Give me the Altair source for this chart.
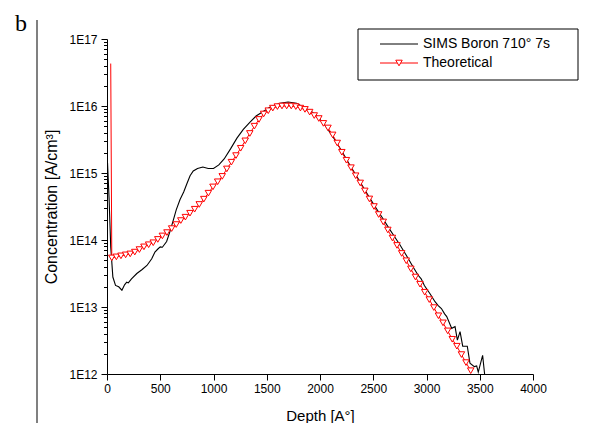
import altair as alt
import pandas as pd

# ---------------- data ----------------
sims_depth = [5, 20, 35, 55, 80, 110, 140, 165, 185, 200, 230, 280, 330, 375, 420, 450,
              480, 500, 520, 560, 590, 620, 650, 685, 720, 750, 780, 810, 850, 900, 950,
              1000, 1050, 1100, 1160, 1220, 1280, 1343, 1400, 1467, 1540, 1624, 1700,
              1780, 1850, 1920, 1970, 2050, 2130, 2200, 2280, 2360, 2450, 2520, 2590,
              2650, 2700, 2750, 2800, 2873, 2920, 2950, 2980, 3033, 3080, 3110, 3140,
              3170, 3190, 3237, 3268, 3290, 3315, 3340, 3383, 3408, 3449, 3471, 3486,
              3527, 3552]
sims_conc = [1.41e15, 3.98e14, 7.9e13, 2.8e13, 2.1e13, 2.0e13, 1.78e13, 2.14e13, 2.34e13,
             2.29e13, 2.63e13, 3.16e13, 3.63e13, 4.17e13, 5.25e13, 6.6e13, 7.4e13, 7.9e13,
             7.8e13, 9.5e13, 1.32e14, 1.91e14, 2.82e14, 3.98e14, 5.2e14, 6.9e14, 9.1e14,
             1.07e15, 1.17e15, 1.23e15, 1.17e15, 1.17e15, 1.32e15, 1.62e15, 2.29e15,
             3.31e15, 4.47e15, 5.75e15, 7.08e15, 8.3e15, 9.8e15, 1.10e16, 1.15e16,
             1.10e16, 9.5e15, 8.3e15, 7.1e15, 5.1e15, 3.3e15, 2.19e15, 1.32e15, 8.1e14,
             4.7e14, 3.1e14, 2.09e14, 1.48e14, 1.12e14, 8.5e13, 6.3e13, 4.0e13, 3.0e13,
             2.63e13, 2.09e13, 1.58e13, 1.20e13, 1.05e13, 9.5e12, 7.9e12, 7.2e12, 4.8e12,
             5.1e12, 3.2e12, 4.3e12, 2.6e12, 2.6e12, 1.45e12, 1.29e12, 1.32e12, 1.07e12,
             1.9e12, 8e11]

theo_depth = [35, 45, 88, 131, 175, 218, 261, 304, 347, 391, 434, 477, 520, 563, 607, 650,
              693, 736, 779, 823, 866, 909, 952, 995, 1039, 1082, 1125, 1168, 1211, 1255,
              1298, 1341, 1384, 1427, 1471, 1514, 1557, 1600, 1643, 1687, 1730, 1773, 1816,
              1859, 1903, 1946, 1989, 2032, 2075, 2119, 2162, 2205, 2248, 2291, 2335, 2378,
              2421, 2464, 2507, 2551, 2594, 2637, 2680, 2723, 2767, 2810, 2853, 2896, 2939,
              2983, 3026, 3069, 3112, 3155, 3199, 3242, 3285, 3328, 3371, 3415]
theo_conc = [4.3e16, 5.4e13, 5.6e13, 5.8e13, 6.0e13, 6.2e13, 6.6e13, 7.2e13, 7.9e13, 8.5e13,
             9.1e13, 1.02e14, 1.15e14, 1.29e14, 1.48e14, 1.70e14, 1.95e14, 2.19e14, 2.51e14,
             2.88e14, 3.39e14, 4.07e14, 5.0e14, 6.2e14, 7.4e14, 8.9e14, 1.15e15, 1.45e15,
             1.82e15, 2.34e15, 3.02e15, 3.89e15, 5.0e15, 6.3e15, 7.6e15, 8.5e15, 9.3e15,
             9.8e15, 1.0e16, 1.0e16, 1.0e16, 9.8e15, 9.3e15, 8.9e15, 8.1e15, 7.2e15, 6.5e15,
             5.5e15, 4.7e15, 3.7e15, 2.8e15, 2.04e15, 1.55e15, 1.20e15, 9.1e14, 7.1e14,
             5.4e14, 4.1e14, 3.16e14, 2.40e14, 1.86e14, 1.41e14, 1.07e14, 8.3e13, 6.3e13,
             4.9e13, 3.7e13, 2.8e13, 2.19e13, 1.66e13, 1.29e13, 9.8e12, 7.4e12, 5.8e12,
             4.4e12, 3.3e12, 2.6e12, 1.95e12, 1.48e12, 1.12e12]

legend_labels = ["SIMS Boron 710° 7s", "Theoretical"]
x_title = "Depth [A°]"
y_title = "Concentration [A/cm³]"
panel_label = "b"

x_ticks = list(range(0, 4001, 250))
y_ticks = [m * 10 ** e for e in range(12, 17) for m in range(1, 10)] + [10 ** 17]

# ---------------- chart ----------------
W, H = 426, 335
FONT = "Liberation Sans"

df_sims = pd.DataFrame({"depth": sims_depth, "conc": sims_conc})
df_theo = pd.DataFrame({"depth": theo_depth, "conc": theo_conc})
df_marks = df_theo.iloc[1:].reset_index(drop=True)
one = pd.DataFrame({"k": [0]})

xscale = alt.Scale(domain=[0, 4000], nice=False, zero=False)
yscale = alt.Scale(type="log", domain=[1e12, 1e17], nice=False)

x_axis = alt.Axis(
    values=x_ticks, format="d", grid=False,
    labelExpr="datum.value % 500 == 0 ? datum.label : ''",
    tickSize={"condition": {"test": "datum.value % 500 == 0", "value": 6}, "value": 3.5},
    labelFlush=False, labelOverlap=False, labelFont=FONT, labelFontSize=12,
    labelColor="black", labelPadding=3, domainColor="black", tickColor="black",
    title=x_title, titleFont=FONT, titleFontSize=15, titleFontWeight="normal",
    titleColor="black", titleBaseline="alphabetic", titleY=46,
)
y_axis = alt.Axis(
    values=y_ticks, grid=False,
    labelExpr="abs(log(datum.value)/LN10 - round(log(datum.value)/LN10)) < 0.001 ? '1E' + round(log(datum.value)/LN10) : ''",
    tickSize={"condition": {"test": "abs(log(datum.value)/LN10 - round(log(datum.value)/LN10)) < 0.001", "value": 6}, "value": 3.5},
    labelFlush=False, labelOverlap=False, labelFont=FONT, labelFontSize=12,
    labelColor="black", labelPadding=4, domainColor="black", tickColor="black",
    title=y_title, titleFont=FONT, titleFontSize=16, titleFontWeight="normal",
    titleColor="black", titleX=-48, titleY=H / 2,
)

X = alt.X("depth:Q", scale=xscale, axis=x_axis)
Y = alt.Y("conc:Q", scale=yscale, axis=y_axis)
X2 = alt.X("depth:Q", scale=xscale)
Y2 = alt.Y("conc:Q", scale=yscale)

sims = alt.Chart(df_sims).mark_line(color="black", strokeWidth=1.1, clip=True).encode(x=X, y=Y)
theo_line = alt.Chart(df_theo).mark_line(color="red", strokeWidth=1, clip=True).encode(x=X2, y=Y2)
theo_pts = alt.Chart(df_marks).mark_point(
    shape="triangle-down", size=42, filled=False, stroke="red", fill="white",
    fillOpacity=1, strokeWidth=1, opacity=1, clip=True,
).encode(x=X2, y=Y2)

# legend (drawn manually)
leg_box = alt.Chart(one).mark_rect(fill="white", stroke="black", strokeWidth=1).encode(
    x=alt.value(251), x2=alt.value(471), y=alt.value(-10), y2=alt.value(41))
leg_l1 = alt.Chart(one).mark_rule(color="black", strokeWidth=1).encode(
    x=alt.value(273), x2=alt.value(311), y=alt.value(5))
leg_l2 = alt.Chart(one).mark_rule(color="red", strokeWidth=1).encode(
    x=alt.value(273), x2=alt.value(311), y=alt.value(24))
leg_p2 = alt.Chart(one).mark_point(
    shape="triangle-down", size=42, filled=False, stroke="red", fill="white",
    fillOpacity=1, strokeWidth=1, opacity=1).encode(x=alt.value(292), y=alt.value(24))
leg_t1 = alt.Chart(one).mark_text(font=FONT, fontSize=14, align="left", baseline="middle",
                                  color="black").encode(
    x=alt.value(316), y=alt.value(5), text=alt.value(legend_labels[0]))
leg_t2 = alt.Chart(one).mark_text(font=FONT, fontSize=14, align="left", baseline="middle",
                                  color="black").encode(
    x=alt.value(316), y=alt.value(24), text=alt.value(legend_labels[1]))

# panel decoration
sep = alt.Chart(one).mark_rule(color="#808080", strokeWidth=2).encode(
    x=alt.value(-70), y=alt.value(-19), y2=alt.value(384))
lab = alt.Chart(one).mark_text(font="Liberation Serif", fontSize=24, align="left",
                               baseline="alphabetic", color="black").encode(
    x=alt.value(-92), y=alt.value(-8), text=alt.value(panel_label))

chart = alt.layer(
    sims, theo_line, theo_pts, leg_box, leg_l1, leg_l2, leg_p2, leg_t1, leg_t2, sep, lab
).properties(
    width=W, height=H,
    padding={"left": 99, "top": 31, "right": 50, "bottom": 49},
    autosize=alt.AutoSizeParams(type="none"),
    background="white",
).configure_view(stroke=None)

chart.save("out.html", embed_options={"renderer": "svg", "actions": False})
